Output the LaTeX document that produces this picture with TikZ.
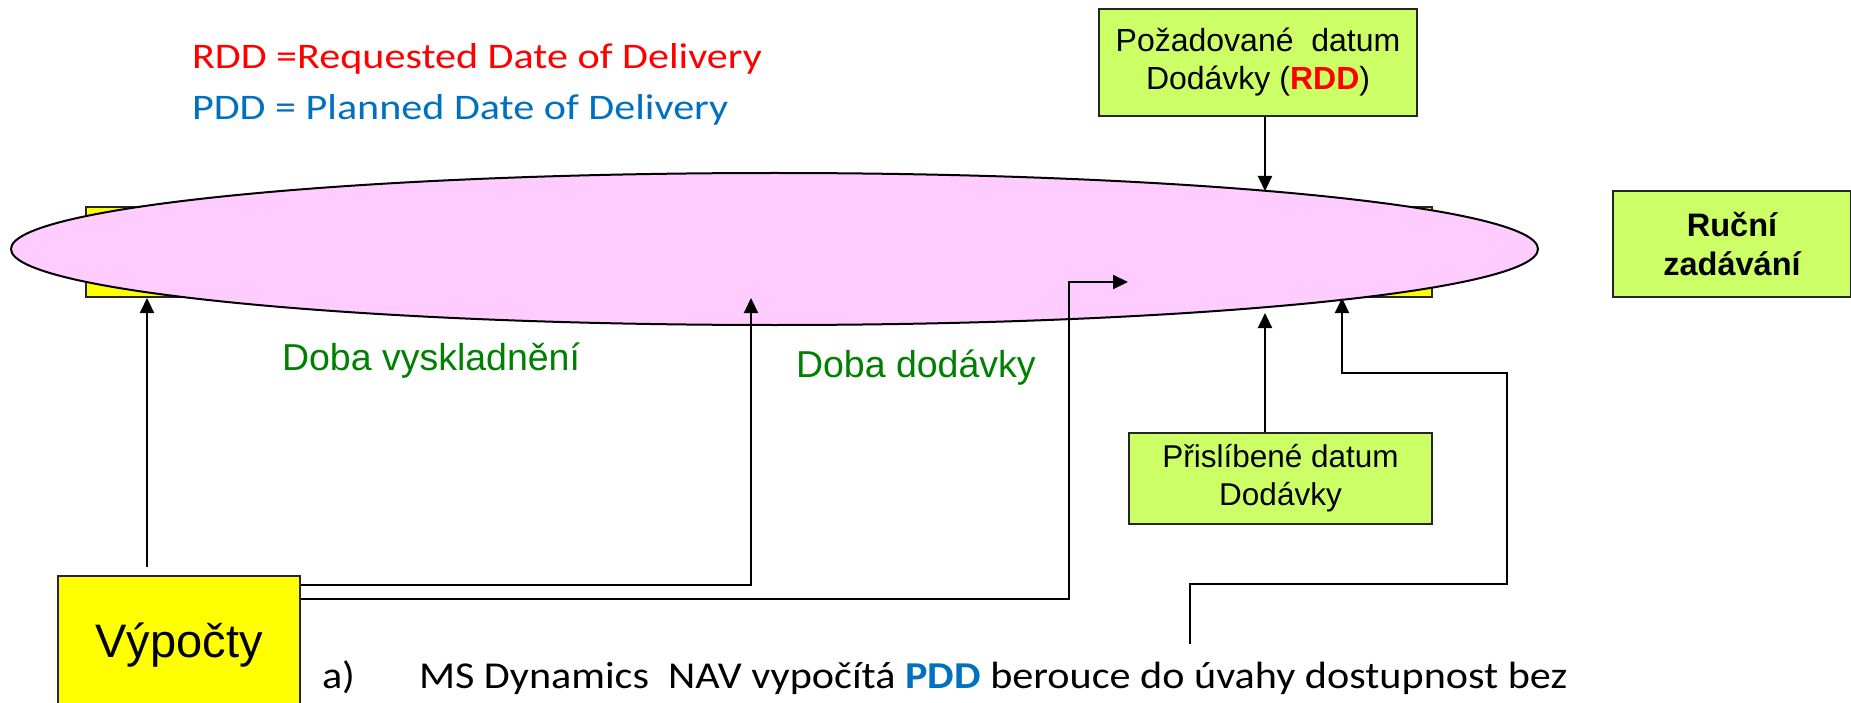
\documentclass[tikz,border=0pt]{standalone}
\usepackage{fontspec}
\setmainfont{Carlito}
\newfontfamily\arialfont{Liberation Sans}
\newfontfamily\legendfont[FakeStretch=1.17]{Carlito}
\newfontfamily\notefont[FakeStretch=1.11]{Carlito}
\usepackage{tikz}
\usetikzlibrary{arrows.meta,shapes.geometric}
\definecolor{boxgreen}{HTML}{CCFF66}
\definecolor{boxyellow}{HTML}{FFFF00}
\definecolor{planpink}{HTML}{FFCCFF}
\definecolor{pddblue}{HTML}{0070C0}
\definecolor{phasegreen}{HTML}{008000}

\begin{document}
\begin{tikzpicture}[x=1pt,y=-1pt,>={Triangle[length=15pt,width=14pt]},
                    line width=2pt]
  \tikzstyle{ybox}=[draw=black!85,fill=boxyellow,inner sep=0pt]
  \tikzstyle{gbox}=[draw=black!85,fill=boxgreen,inner sep=0pt,align=center,
                    font=\arialfont\fontsize{32}{38}\selectfont]
  \tikzstyle{legend}=[anchor=base west,inner sep=0pt,font=\legendfont\fontsize{36}{43}\selectfont]
  \tikzstyle{note}=[anchor=base west,inner sep=0pt,font=\notefont\fontsize{38}{46}\selectfont]
  \tikzstyle{phase}=[anchor=base west,inner sep=0pt,text=phasegreen,
                     font=\arialfont\fontsize{37.5}{44}\selectfont]

  \useasboundingbox (0,0) rectangle (1851,703);

  \node[ybox,minimum width=1346pt,minimum height=90pt] (bar) at (759,252) {};
  \node[ellipse,draw,fill=planpink,inner sep=0pt,
        minimum width=1527pt,minimum height=152pt] (plan) at (774.5,249) {};

  \node[gbox,minimum width=318pt,minimum height=107pt] (rdd) at (1258,62.5)
       {Požadované\ \ datum\\Dodávky ({\color{red}\bfseries RDD})};
  \node[gbox,font=\arialfont\fontsize{31.5}{38}\selectfont,
        minimum width=303pt,minimum height=91pt] (prom) at (1280.5,478.5)
       {Přislíbené datum\\Dodávky};
  \node[gbox,font=\arialfont\bfseries\fontsize{32.5}{39}\selectfont,
        minimum width=238pt,minimum height=106pt] (manual) at (1732,244)
       {Ruční\\zadávání};
  \node[ybox,minimum width=242pt,minimum height=138pt,
        font=\arialfont\fontsize{47}{56}\selectfont] (calc) at (179,645) {Výpočty};

  \node[legend,text=red]     (rddkey) at (191,69)  {RDD =Requested Date of Delivery};
  \node[legend,text=pddblue] (pddkey) at (191,120) {PDD = Planned Date of Delivery};

  \node[phase] (pick) at (281,370) {Doba vyskladnění};
  \node[phase] (ship) at (795,377) {Doba dodávky};

  \node[note] (item) at (321,688) {a)};
  \node[note] (text) at (418,688)
       {MS Dynamics\ \ NAV vypočítá {\color{pddblue}\bfseries PDD} berouce do úvahy dostupnost bez};

  \coordinate (t1) at (147,298);
  \coordinate (t2) at (751,298);
  \coordinate (k3) at (1069,282);
  \coordinate (t3) at (1128,282);
  \coordinate (t4) at (1265,191);
  \coordinate (t5) at (1265,313);
  \coordinate (t6) at (1342,298);
  \coordinate (s6) at (1190,644);

  \draw[->] ([yshift=8pt]calc.north -| t1) -- (t1);
  \draw[->] ([yshift=60pt]calc.east) -| (t2);
  \draw[->] ([yshift=46pt]calc.east) -| (k3) -- (t3);
  \draw[->] (rdd.south -| t4) -- (t4);
  \draw[->] (prom.north -| t5) -- (t5);
  \draw[->] (s6) -- ++(0,-60) -- ++(317,0) -- ++(0,-211) -| (t6);

\end{tikzpicture}
\end{document}
